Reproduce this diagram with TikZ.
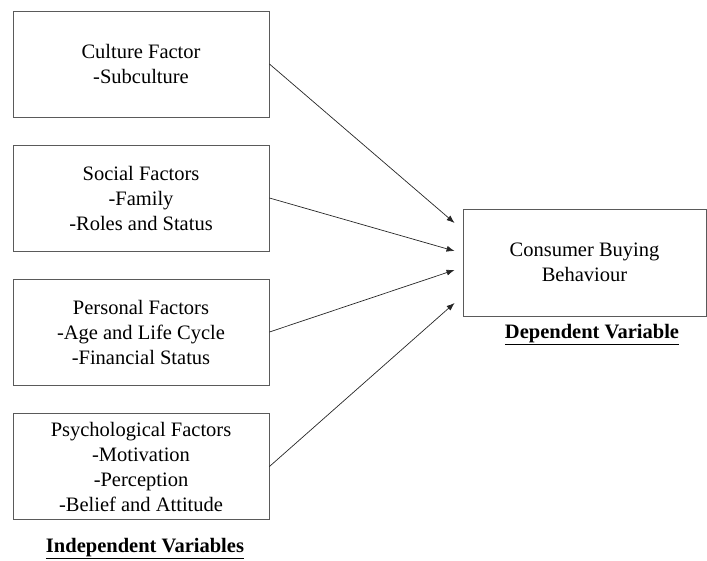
\documentclass[tikz,border=0pt]{standalone}
\usepackage{fontspec}
\setmainfont{Liberation Serif}
\usepackage{xcolor}
\usetikzlibrary{arrows.meta}
\definecolor{boxgray}{RGB}{90,90,90}

\tikzset{
  factorbox/.style={draw=boxgray, line width=0.9pt, minimum width=256pt, minimum height=106pt,
    align=center, inner sep=0pt, font=\fontsize{20.5}{25}\selectfont},
  arrow/.style={-{Latex[length=8pt,width=6pt]}, line width=0.7pt, black!85}
}

\begin{document}
\begin{tikzpicture}[x=1pt,y=-1pt]
\useasboundingbox (0,0) rectangle (707,561);

% Independent factors
\foreach \i/\y/\txt in {1/64/{Culture Factor\\-Subculture},
                        2/198/{Social Factors\\-Family\\-Roles and Status},
                        3/332/{Personal Factors\\-Age and Life Cycle\\-Financial Status},
                        4/466.5/{Psychological Factors\\-Motivation\\-Perception\\-Belief and Attitude}} {
    \node[factorbox] (f\i) at (141,\y) {\txt};
}

% Dependent box
\node[factorbox, minimum width=243pt, minimum height=107pt] (cb) at (584.5,262.5) {Consumer Buying\\Behaviour};

% Arrows
\foreach \i/\dy in {1/-39.5, 2/-11.5, 3/7.5, 4/40.5} {
    \draw[arrow] (f\i.east) -- ([shift={(-8,\dy)}]cb.west);
}

% Labels
\node[font=\fontsize{20.5}{25}\selectfont\bfseries] (indep) at (145,549) {\underline{Independent Variables}};
\node[font=\fontsize{20.5}{25}\selectfont\bfseries] (dep) at (592,335) {\underline{Dependent Variable}};
\end{tikzpicture}
\end{document}
